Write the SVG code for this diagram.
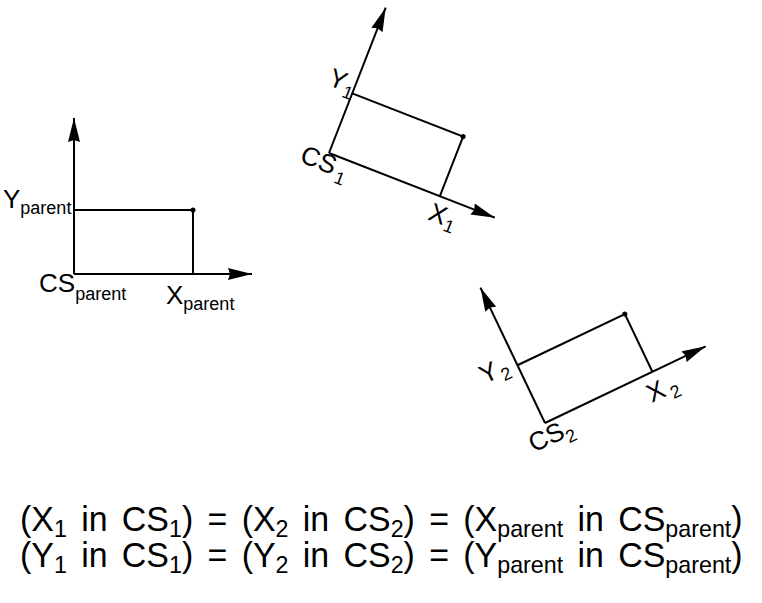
<svg xmlns="http://www.w3.org/2000/svg" width="762" height="603" viewBox="0 0 762 603">
  <defs>
    <marker id="arrow" viewBox="0 0 24 12" refX="24" refY="6" markerWidth="24" markerHeight="12" markerUnits="userSpaceOnUse" orient="auto">
      <path d="M0,0 L24,6 L0,12 L2,6 Z" fill="#000"/>
    </marker>
  </defs>
  <style>
    .ax { stroke: #000; stroke-width: 2; fill: none; }
    .ln { stroke: #000; stroke-width: 2; fill: none; }
    .dot { fill: #000; }
    .lbl { font-family: "Liberation Sans", Arial, sans-serif; font-size: 26px; fill: #000; }
    .sub { font-size: 18px; }
    .eq { font-family: "Liberation Sans", Arial, sans-serif; font-size: 35px; word-spacing: 5px; fill: #000; }
    .eqs { font-size: 24px; }
  </style>
  <rect width="762" height="603" fill="#fff"/>

  <g id="cs-parent" transform="translate(74,274)">
    <line class="ax" x1="0" y1="0" x2="178" y2="0" marker-end="url(#arrow)"/>
    <line class="ax" x1="0" y1="0" x2="0" y2="-156" marker-end="url(#arrow)"/>
    <polyline class="ln" points="0,-64 119,-64 119,0"/>
    <circle class="dot" cx="119" cy="-64" r="2.5"/>
    <text class="lbl" x="-71" y="-66">Y<tspan class="sub" dy="6">parent</tspan></text>
    <text class="lbl" x="-35" y="18">CS<tspan class="sub" dy="8">parent</tspan></text>
    <text class="lbl" x="92" y="30">X<tspan class="sub" dy="6">parent</tspan></text>
  </g>

  <g id="cs-1" transform="translate(329,153) rotate(21.3)">
    <line class="ax" x1="0" y1="0" x2="178" y2="0" marker-end="url(#arrow)"/>
    <line class="ax" x1="0" y1="0" x2="0" y2="-156" marker-end="url(#arrow)"/>
    <polyline class="ln" points="0,-64 119,-64 119,0"/>
    <circle class="dot" cx="119" cy="-64" r="2.5"/>
    <text class="lbl" x="-27" y="-63">Y<tspan class="sub" dy="6">1</tspan></text>
    <text class="lbl" x="-25" y="19">CS<tspan class="sub" dx="3" dy="7">1</tspan></text>
    <text class="lbl" x="115" y="26">X<tspan class="sub" dx="1" dy="5">1</tspan></text>
  </g>

  <g id="cs-2" transform="translate(545,423) rotate(-25.5)">
    <line class="ax" x1="0" y1="0" x2="178" y2="0" marker-end="url(#arrow)"/>
    <line class="ax" x1="0" y1="0" x2="0" y2="-150" marker-end="url(#arrow)"/>
    <polyline class="ln" points="0,-64 119,-64 119,0"/>
    <circle class="dot" cx="119" cy="-64" r="2.5"/>
    <text class="lbl" x="-38" y="-61">Y<tspan class="sub" dx="2" dy="6">2</tspan></text>
    <text class="lbl" x="-23" y="22">CS<tspan class="sub" dy="7">2</tspan></text>
    <text class="lbl" x="105" y="28">X<tspan class="sub" dx="4" dy="6">2</tspan></text>
  </g>

  <g id="equations" transform="translate(20,0) scale(0.97,1)">
    <text class="eq" x="0" y="531">(X<tspan class="eqs" dy="6">1</tspan><tspan dy="-6"> in CS</tspan><tspan class="eqs" dy="6">1</tspan><tspan dy="-6">) = (X</tspan><tspan class="eqs" dy="6">2</tspan><tspan dy="-6"> in CS</tspan><tspan class="eqs" dy="6">2</tspan><tspan dy="-6">) = (X</tspan><tspan class="eqs" dy="6">parent</tspan><tspan dy="-6"> in CS</tspan><tspan class="eqs" dy="6">parent</tspan><tspan dy="-6">)</tspan></text>
    <text class="eq" x="0" y="567">(Y<tspan class="eqs" dy="6">1</tspan><tspan dy="-6"> in CS</tspan><tspan class="eqs" dy="6">1</tspan><tspan dy="-6">) = (Y</tspan><tspan class="eqs" dy="6">2</tspan><tspan dy="-6"> in CS</tspan><tspan class="eqs" dy="6">2</tspan><tspan dy="-6">) = (Y</tspan><tspan class="eqs" dy="6">parent</tspan><tspan dy="-6"> in CS</tspan><tspan class="eqs" dy="6">parent</tspan><tspan dy="-6">)</tspan></text>
  </g>
</svg>
